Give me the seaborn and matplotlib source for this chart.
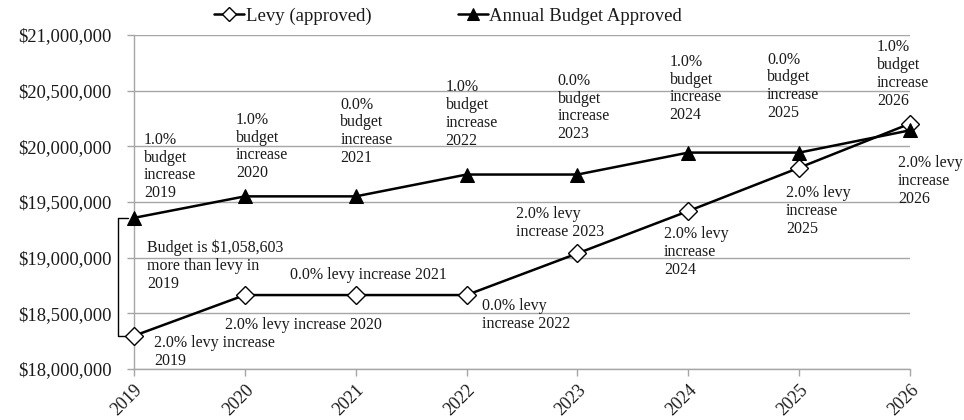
import matplotlib
matplotlib.use("Agg")
import matplotlib.pyplot as plt
import matplotlib.ticker as mticker
import seaborn as sns
import pandas as pd

years = [2019, 2020, 2021, 2022, 2023, 2024, 2025, 2026]
levy = [18298000, 18664000, 18664000, 18664000, 19038000, 19418000, 19807000, 20203000]
budget = [19357000, 19550000, 19550000, 19746000, 19746000, 19943000, 19943000, 20143000]
y_ticks = [18000000, 18500000, 19000000, 19500000, 20000000, 20500000, 21000000]

budget_notes = [
    ("1.0%\nbudget\nincrease\n2019", 2019.09, 20130000),
    ("1.0%\nbudget\nincrease\n2020", 2019.92, 20310000),
    ("0.0%\nbudget\nincrease\n2021", 2020.86, 20445000),
    ("1.0%\nbudget\nincrease\n2022", 2021.81, 20600000),
    ("0.0%\nbudget\nincrease\n2023", 2022.82, 20660000),
    ("1.0%\nbudget\nincrease\n2024", 2023.83, 20830000),
    ("0.0%\nbudget\nincrease\n2025", 2024.71, 20850000),
    ("1.0%\nbudget\nincrease\n2026", 2025.70, 20960000),
]
levy_notes = [
    ("2.0% levy increase\n2019", 2019.18, 18305000),
    ("2.0% levy increase 2020", 2019.82, 18470000),
    ("0.0% levy increase 2021", 2020.41, 18920000),
    ("0.0% levy\nincrease 2022", 2022.14, 18640000),
    ("2.0% levy\nincrease 2023", 2022.45, 19460000),
    ("2.0% levy\nincrease\n2024", 2023.78, 19280000),
    ("2.0% levy\nincrease\n2025", 2024.88, 19650000),
    ("2.0% levy\nincrease\n2026", 2025.89, 19920000),
]
gap_note = "Budget is $1,058,603\nmore than levy in\n2019"

sns.set_theme(style="white")
plt.rcParams["font.family"] = ["Liberation Serif", "DejaVu Serif"]
text_color = "#1a1a1a"
grid_color = "#a6a6a6"

df = pd.DataFrame({"year": years, "levy": levy, "budget": budget})

fig = plt.figure(figsize=(9.64, 4.2), dpi=100)
ax = fig.add_axes([0.139, 0.1214, 0.805, 0.7956])

sns.lineplot(data=df, x="year", y="levy", ax=ax, color="black", linewidth=1.8,
             marker="D", markersize=9, markerfacecolor="white",
             markeredgecolor="black", markeredgewidth=1.0,
             label="Levy (approved)", zorder=5, clip_on=False)
sns.lineplot(data=df, x="year", y="budget", ax=ax, color="black", linewidth=1.8,
             marker="^", markersize=10, markerfacecolor="black",
             markeredgecolor="black", label="Annual Budget Approved",
             zorder=5, clip_on=False)

ax.set_xlim(years[0], years[-1])
ax.set_ylim(y_ticks[0], y_ticks[-1])
ax.set_yticks(y_ticks)
ax.set_xticks(years)
ax.yaxis.set_major_formatter(mticker.StrMethodFormatter("${x:,.0f}"))
ax.set_xticklabels([str(y) for y in years], rotation=45, ha="right",
                   rotation_mode="anchor")
ax.tick_params(axis="y", labelsize=13.3, colors=text_color, length=5,
               width=1, color=grid_color, direction="out", left=True, pad=11)
ax.tick_params(axis="x", labelsize=13, colors=text_color, length=5,
               width=1, color=grid_color, direction="out", bottom=True, pad=4)
ax.set_xlabel("")
ax.set_ylabel("")
ax.grid(axis="y", color=grid_color, linewidth=1)
ax.grid(axis="x", visible=False)
for s in ["top", "right"]:
    ax.spines[s].set_visible(False)
for s in ["left", "bottom"]:
    ax.spines[s].set_color(grid_color)
    ax.spines[s].set_linewidth(1)

for txt, x, y in budget_notes + levy_notes:
    ax.text(x, y, txt, fontsize=11.5, color=text_color, ha="left", va="top",
            linespacing=1.15, zorder=6)
ax.text(2019.12, 19160000, gap_note, fontsize=11.5, color=text_color,
        ha="left", va="top", linespacing=1.15, zorder=6)

# bracket between budget and levy in 2019
bx0, bx1 = years[0] - 0.145, years[0] - 0.055
ax.plot([bx1, bx0, bx0, bx1], [budget[0], budget[0], levy[0], levy[0]],
        color="black", linewidth=1.0, clip_on=False)

leg = ax.legend(loc="center", bbox_to_anchor=(448 / 964, 1 - 16 / 420),
                bbox_transform=fig.transFigure, ncol=2, frameon=False,
                fontsize=13.5, handlelength=1.6, handletextpad=0.1,
                columnspacing=4.6, markerscale=0.8)
for t in leg.get_texts():
    t.set_color(text_color)

fig.savefig("out.png", dpi=100)
